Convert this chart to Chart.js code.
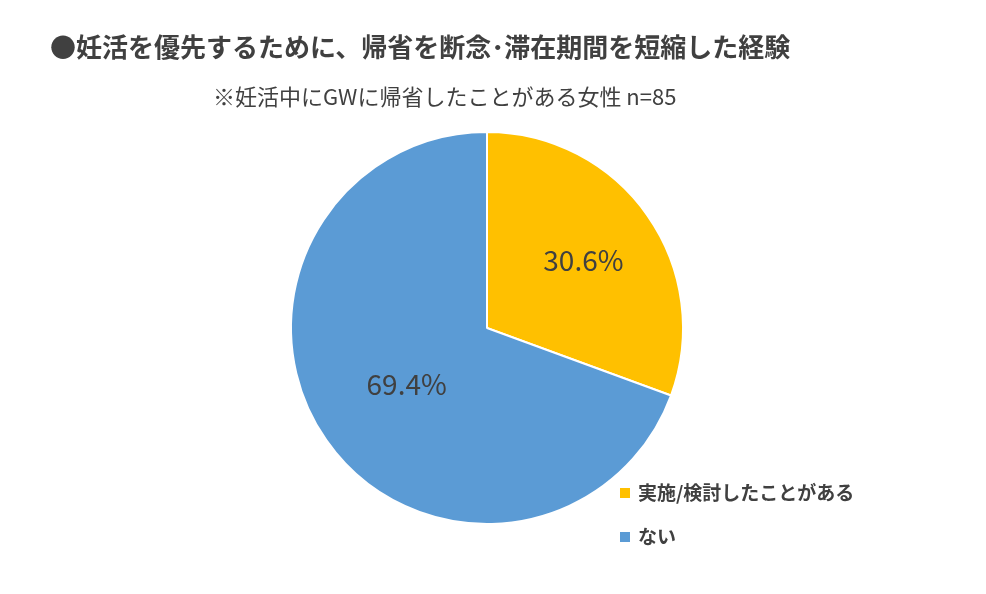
<!DOCTYPE html>
<html><head><meta charset="utf-8">
<script src="https://cdn.jsdelivr.net/npm/chart.js@4"></script>
<style>html,body{margin:0;background:#fff}#c{display:block}</style>
</head><body>
<div style="width:986px;height:594px"><canvas id="c"></canvas></div>
<script>
const titleText = "●妊活を優先するために、帰省を断念･滞在期間を短縮した経験";
const subtitleText = "※妊活中にGWに帰省したことがある女性 n=85";
const labels = ["実施/検討したことがある", "ない"];
const values = [30.6, 69.4];
const colors = ["#FFC000", "#5B9BD5"];
const FONT = "'Noto Sans CJK JP', 'Noto Sans', sans-serif";

const textPlugin = {
  id: "texts",
  afterDraw(chart) {
    const ctx = chart.ctx;
    ctx.save();
    ctx.fillStyle = "#404040";
    ctx.textBaseline = "middle";
    ctx.textAlign = "left";
    ctx.font = "bold 26px " + FONT;
    ctx.fillText(titleText, 50, 47);
    ctx.font = "22px " + FONT;
    ctx.fillText(subtitleText, 213, 97);
    // value labels
    const meta = chart.getDatasetMeta(0);
    ctx.font = "28px " + FONT;
    ctx.textAlign = "center";
    meta.data.forEach((arc, i) => {
      const mid = (arc.startAngle + arc.endAngle) / 2;
      const r = arc.outerRadius * (i === 0 ? 0.6 : 0.5);
      ctx.fillText(values[i].toFixed(1) + "%", arc.x + Math.cos(mid) * r, arc.y + Math.sin(mid) * r);
    });
    // legend
    ctx.textAlign = "left";
    ctx.font = "bold 19px " + FONT;
    labels.forEach((l, i) => {
      const y = 493 + i * 44;
      ctx.fillStyle = colors[i];
      ctx.fillRect(620, y - 5, 10, 10);
      ctx.fillStyle = "#404040";
      ctx.fillText(l, 638, y);
    });
    ctx.restore();
  }
};

new Chart(document.getElementById("c"), {
  type: "pie",
  data: { labels, datasets: [{ data: values, backgroundColor: colors, borderColor: "#fff", borderWidth: 2 }] },
  options: {
    responsive: true, maintainAspectRatio: false, animation: false,
    layout: { padding: { left: 290, right: 302, top: 131, bottom: 69 } },
    plugins: { legend: { display: false }, tooltip: { enabled: false } }
  },
  plugins: [textPlugin]
});
</script>
</body></html>
